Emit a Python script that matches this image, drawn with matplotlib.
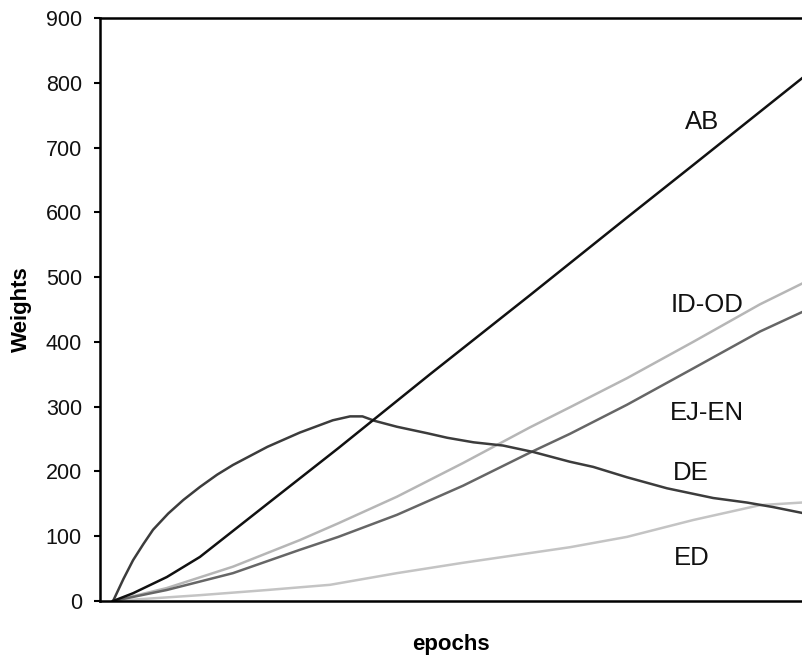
import matplotlib
matplotlib.use("Agg")
import matplotlib.pyplot as plt

plt.rcParams['font.family'] = ['Liberation Sans', 'DejaVu Sans']

# Data (epochs in arbitrary units, weights)
ab_x = [0, 29, 78, 126, 224, 327, 460, 605, 746, 842, 1000]
ab_y = [0, 12, 37, 68, 150, 236, 350, 472, 592, 673, 807]

de_x = [0, 15, 29, 44, 58, 80, 102, 126, 151, 174, 224, 271, 319, 344, 362, 380, 412, 456,
        485, 523, 566, 610, 663, 697, 746, 804, 871, 920, 958, 1000]
de_y = [0, 34, 63, 88, 110, 135, 156, 176, 195, 210, 238, 260, 279, 285, 285, 278, 269, 259,
        252, 245, 240, 230, 215, 207, 191, 174, 159, 152, 145, 136]

idod_x = [0, 78, 174, 271, 327, 412, 508, 605, 663, 746, 842, 939, 1000]
idod_y = [0, 20, 53, 94, 120, 161, 213, 268, 299, 344, 400, 458, 490]

ejen_x = [0, 78, 174, 271, 327, 412, 508, 605, 663, 746, 842, 939, 1000]
ejen_y = [0, 17, 43, 79, 99, 133, 178, 229, 258, 303, 359, 416, 446]

ed_x = [0, 126, 224, 315, 412, 508, 605, 663, 746, 842, 939, 1000]
ed_y = [0, 9, 17, 25, 43, 59, 74, 83, 99, 125, 148, 152]

labels = ["AB", "ID-OD", "EJ-EN", "DE", "ED"]
label_x = [855, 862, 862, 839, 840]
label_y = [739, 457, 290, 198, 66]

y_ticks = [0, 100, 200, 300, 400, 500, 600, 700, 800, 900]

fig = plt.figure(figsize=(8.02, 6.59), dpi=100)
ax = fig.add_axes([100/802, 58/659, 702/802, 583/659])

ax.plot(ed_x, ed_y, color="#c4c4c4", lw=1.8)
ax.plot(idod_x, idod_y, color="#b6b6b6", lw=1.8)
ax.plot(ejen_x, ejen_y, color="#666666", lw=1.8)
ax.plot(de_x, de_y, color="#3c3c3c", lw=1.8)
ax.plot(ab_x, ab_y, color="#111111", lw=1.8)

for t, x, y in zip(labels, label_x, label_y):
    ax.text(x, y, t, fontsize=18.5, ha="center", va="center", color="#111111")

ax.set_xlim(-19, 1000)
ax.set_ylim(0, 900)
ax.set_yticks(y_ticks)
ax.set_yticklabels([str(v) for v in y_ticks], fontsize=15.5, color="#111111")
ax.set_xticks([])
ax.tick_params(axis='y', direction='out', length=4.5, width=1.5, pad=8.5)
for s in ["left", "bottom", "top"]:
    ax.spines[s].set_linewidth(1.8)
ax.spines["right"].set_visible(False)

ax.set_ylabel("Weights", fontsize=16, fontweight="bold", labelpad=10)
ax.set_xlabel("epochs", fontsize=16, fontweight="bold", labelpad=24)

fig.savefig("out.png", dpi=100)
